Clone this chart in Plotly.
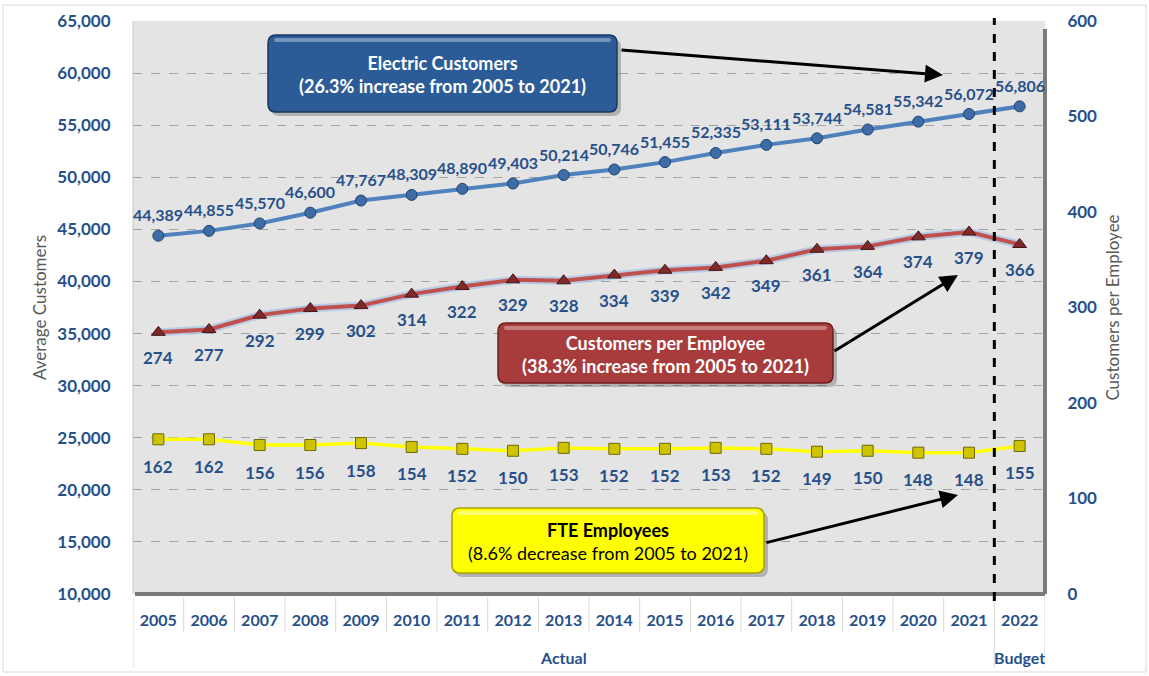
import plotly.graph_objects as go

# ---------------- data ----------------
years = ["2005", "2006", "2007", "2008", "2009", "2010", "2011", "2012", "2013",
         "2014", "2015", "2016", "2017", "2018", "2019", "2020", "2021", "2022"]
customers = [44389, 44855, 45570, 46600, 47767, 48309, 48890, 49403, 50214,
             50746, 51455, 52335, 53111, 53744, 54581, 55342, 56072, 56806]
cust_per_emp = [274, 277, 292, 299, 302, 314, 322, 329, 328,
                334, 339, 342, 349, 361, 364, 374, 379, 366]
fte = [162, 162, 156, 156, 158, 154, 152, 150, 153,
       152, 152, 153, 152, 149, 150, 148, 148, 155]
left_ticks = [10000, 15000, 20000, 25000, 30000, 35000, 40000, 45000, 50000,
              55000, 60000, 65000]
right_ticks = [0, 100, 200, 300, 400, 500, 600]
period_labels = [("Actual", "2013"), ("Budget", "2022")]

# ---------------- style ----------------
W, H = 1149, 676
L, R, T, B = 133, 1045, 21, 594
BLUE_TXT = "#27508A"
GRAY_TXT = "#595959"
FONT = "Lato"


def px(x):
    return (x - L) / (R - L)


def py(y):
    return (B - y) / (B - T)


def rrect(x0, y0, x1, y1, r):
    p = [
        f"M {px(x0 + r)} {py(y0)}",
        f"L {px(x1 - r)} {py(y0)}",
        f"Q {px(x1)} {py(y0)} {px(x1)} {py(y0 + r)}",
        f"L {px(x1)} {py(y1 - r)}",
        f"Q {px(x1)} {py(y1)} {px(x1 - r)} {py(y1)}",
        f"L {px(x0 + r)} {py(y1)}",
        f"Q {px(x0)} {py(y1)} {px(x0)} {py(y1 - r)}",
        f"L {px(x0)} {py(y0 + r)}",
        f"Q {px(x0)} {py(y0)} {px(x0 + r)} {py(y0)}",
        "Z",
    ]
    return " ".join(p)


fig = go.Figure()

# Electric customers (left axis)
fig.add_trace(go.Scatter(
    x=years, y=customers, mode="lines+markers", yaxis="y",
    line=dict(color="#4F81BD", width=4),
    marker=dict(symbol="circle", size=11, color="#3D6CA6",
                line=dict(color="#22446E", width=1)),
    showlegend=False, hoverinfo="skip"))

# Customers per employee (right axis) with glow
fig.add_trace(go.Scatter(
    x=years, y=cust_per_emp, mode="lines", yaxis="y2",
    line=dict(color="rgba(170,195,230,0.75)", width=8),
    showlegend=False, hoverinfo="skip"))
fig.add_trace(go.Scatter(
    x=years, y=cust_per_emp, mode="lines+markers", yaxis="y2",
    line=dict(color="#C0504D", width=4),
    marker=dict(symbol="triangle-up", size=12, color="#7E2A2A",
                line=dict(color="#4A1414", width=1)),
    showlegend=False, hoverinfo="skip"))

# FTE employees (right axis)
fig.add_trace(go.Scatter(
    x=years, y=fte, mode="lines+markers", yaxis="y2",
    line=dict(color="#FFFF00", width=3.5),
    marker=dict(symbol="square", size=11, color="#CFC300",
                line=dict(color="#6E6800", width=1)),
    showlegend=False, hoverinfo="skip"))

annotations = []
lab_font = dict(family=FONT, size=16, color=BLUE_TXT, weight="bold")
for i, v in enumerate(customers):
    annotations.append(dict(x=i, y=v, xref="x", yref="y", text=f"{v:,}",
                            showarrow=False, yshift=21, font=lab_font,
                            xanchor="center", yanchor="middle"))
for i, v in enumerate(cust_per_emp):
    annotations.append(dict(x=i, y=v, xref="x", yref="y2", text=str(v),
                            showarrow=False, yshift=-25,
                            xanchor="center", yanchor="middle",
                            font=dict(lab_font, size=17)))
for i, v in enumerate(fte):
    annotations.append(dict(x=i, y=v, xref="x", yref="y2", text=str(v),
                            showarrow=False, yshift=-27,
                            xanchor="center", yanchor="middle",
                            font=dict(lab_font, size=17)))

for txt, cat in period_labels:
    annotations.append(dict(x=years.index(cat), y=py(657), xref="x", yref="paper",
                            text=txt, showarrow=False, xanchor="center",
                            yanchor="middle", font=dict(lab_font, size=16)))

shapes = []

# outer faint frame
shapes.append(dict(type="rect", xref="paper", yref="paper",
                   x0=px(3), x1=px(1146), y0=py(672), y1=py(5),
                   line=dict(color="#D9D9D9", width=1), layer="below"))

# plot area edge (3D look)
shapes.append(dict(type="line", xref="paper", yref="paper", x0=0, x1=0, y0=0, y1=1,
                   line=dict(color="#C8C8C8", width=1)))
shapes.append(dict(type="line", xref="paper", yref="paper", x0=px(L + 2), x1=1, y0=0, y1=0,
                   line=dict(color="#7A7A7A", width=4)))
shapes.append(dict(type="line", xref="paper", yref="paper", x0=1, x1=1, y0=0, y1=py(T + 8),
                   line=dict(color="#7A7A7A", width=4)))

# category separators below the axis
for i in range(19):
    b = i - 0.5
    long_sep = b in (-0.5, 16.5, 17.5)
    shapes.append(dict(type="line", xref="x", yref="paper", x0=b, x1=b,
                       y0=py(597), y1=py(668 if long_sep else 632),
                       line=dict(color="#D9D9D9", width=1)))

# Actual / Budget divider
shapes.append(dict(type="line", xref="x", yref="paper", x0=16.5, x1=16.5,
                   y0=py(601), y1=py(18),
                   line=dict(color="black", width=3, dash="dash"), layer="above"))

# call-out boxes
boxes = [
    dict(x0=268, y0=35, x1=617, y1=112, fill="#2C5C97", edge="#17375E",
         gloss="rgba(255,255,255,0.35)",
         lines=["<b>Electric Customers</b>", "<b>(26.3% increase from 2005 to 2021)</b>"],
         color="white", tail=(620, 50), head=(943, 75)),
    dict(x0=498, y0=323, x1=833, y1=383, fill="#A83B3B", edge="#6E1E1E",
         gloss="rgba(255,255,255,0.35)",
         lines=["<b>Customers per Employee</b>", "<b>(38.3% increase from 2005 to 2021)</b>"],
         color="white", tail=(833, 352), head=(958, 275)),
    dict(x0=452, y0=508, x1=764, y1=573, fill="#FFFF00", edge="#A8A000",
         gloss="rgba(255,255,255,0.45)",
         lines=["<b>FTE Employees</b>", "(8.6% decrease from 2005 to 2021)"],
         color="black", tail=(765, 543), head=(958, 495)),
]
for bx in boxes:
    shapes.append(dict(type="path", xref="paper", yref="paper",
                       path=rrect(bx["x0"] + 3, bx["y0"] + 4, bx["x1"] + 4, bx["y1"] + 4, 8),
                       fillcolor="rgba(0,0,0,0.22)", line=dict(width=0), layer="above"))
    shapes.append(dict(type="path", xref="paper", yref="paper",
                       path=rrect(bx["x0"], bx["y0"], bx["x1"], bx["y1"], 8),
                       fillcolor=bx["fill"], line=dict(color=bx["edge"], width=1.5),
                       layer="above"))
    shapes.append(dict(type="path", xref="paper", yref="paper",
                       path=rrect(bx["x0"] + 6, bx["y0"] + 3, bx["x1"] - 6, bx["y0"] + 7, 2),
                       fillcolor=bx["gloss"], line=dict(width=0), layer="above"))
    annotations.append(dict(x=px((bx["x0"] + bx["x1"]) / 2), y=py((bx["y0"] + bx["y1"]) / 2 + 1),
                            xref="paper", yref="paper", showarrow=False,
                            xanchor="center", yanchor="middle",
                            text="<br>".join(bx["lines"]),
                            font=dict(family=FONT, size=18, color=bx["color"])))
    hx, hy = bx["head"]
    tx, ty = bx["tail"]
    annotations.append(dict(x=px(hx), y=py(hy), ax=tx - hx, ay=ty - hy,
                            xref="paper", yref="paper", axref="pixel", ayref="pixel",
                            text="", showarrow=True, arrowhead=2, arrowsize=1.2,
                            arrowwidth=3, arrowcolor="black"))

fig.update_layout(
    width=W, height=H,
    margin=dict(l=L, r=W - R, t=T, b=H - B),
    paper_bgcolor="white",
    plot_bgcolor="#E4E4E4",
    font=dict(family=FONT),
    xaxis=dict(type="category", range=[-0.5, 17.5], showgrid=False, zeroline=False,
               ticks="outside", ticklen=12, tickcolor="rgba(0,0,0,0)",
               tickfont=dict(family=FONT, size=16, color=BLUE_TXT, weight="bold"),
               fixedrange=True),
    yaxis=dict(range=[10000, 65000], tickvals=left_ticks, tickformat=",",
               showgrid=True, gridcolor="#A3A3A3", griddash="dash", gridwidth=1,
               zeroline=False, ticks="outside", ticklen=18, tickcolor="rgba(0,0,0,0)",
               tickfont=dict(family=FONT, size=17, color=BLUE_TXT, weight="bold"),
               title=dict(text="Average Customers", standoff=6,
                          font=dict(family=FONT, size=17, color=GRAY_TXT)),
               automargin=False),
    yaxis2=dict(range=[0, 600], tickvals=right_ticks, overlaying="y", side="right",
                showgrid=False, zeroline=False, ticks="outside", ticklen=18,
                tickcolor="rgba(0,0,0,0)",
                tickfont=dict(family=FONT, size=17, color=BLUE_TXT, weight="bold"),
                title=dict(text="Customers per Employee", standoff=10,
                           font=dict(family=FONT, size=17, color=GRAY_TXT)),
                automargin=False),
    shapes=shapes,
    annotations=annotations,
)

fig.write_html("out.html", config={"displayModeBar": False},
               post_script="document.body.style.margin='0';document.body.style.overflow='hidden';")
